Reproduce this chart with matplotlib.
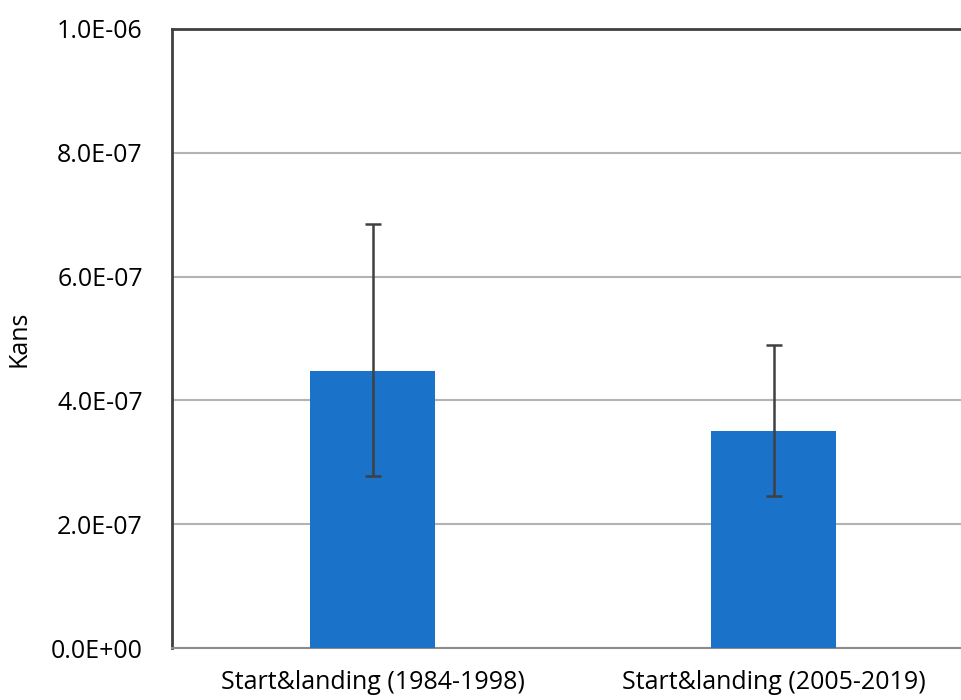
import matplotlib
matplotlib.use("Agg")
import matplotlib.pyplot as plt
from matplotlib.ticker import FuncFormatter

categories = ["Start&landing (1984-1998)", "Start&landing (2005-2019)"]
kans = [4.47e-7, 3.50e-7]
err_low = [2.78e-7, 2.45e-7]
err_high = [6.85e-7, 4.89e-7]

plt.rcParams['font.family'] = ['Open Sans', 'DejaVu Sans']

fig = plt.figure(figsize=(9.62, 7), dpi=100)
ax = fig.add_axes([172 / 962, 52 / 700, 802 / 962, 619 / 700])

x = list(range(len(categories)))
yerr = [[k - lo for k, lo in zip(kans, err_low)],
        [hi - k for k, hi in zip(kans, err_high)]]
ax.bar(x, kans, width=0.31, color='#1A72C9', zorder=3)
ax.errorbar(x, kans, yerr=yerr, fmt='none', ecolor='#404040',
            elinewidth=1.8, capsize=6, capthick=1.8, zorder=4)

ax.set_xlim(-0.5, 1.5)
ax.set_ylim(0, 1e-6)
ax.set_yticks([i * 2e-7 for i in range(6)])
ax.yaxis.set_major_formatter(FuncFormatter(lambda v, p: "%.1E" % v))
ax.grid(axis='y', color='#b3b3b3', linewidth=1.5, zorder=0)

ax.set_xticks(x)
ax.set_xticklabels(categories)
ax.tick_params(axis='x', length=0, pad=16, labelsize=18)
ax.tick_params(axis='y', length=0, pad=21, labelsize=18)
ax.set_ylabel("Kans", fontsize=18, labelpad=14)

for s in ['top', 'left']:
    ax.spines[s].set_color('#404040')
    ax.spines[s].set_linewidth(2)
ax.spines['bottom'].set_color('#8c8c8c')
ax.spines['bottom'].set_linewidth(1.5)
ax.spines['right'].set_visible(False)

fig.savefig("out.png", dpi=100)
